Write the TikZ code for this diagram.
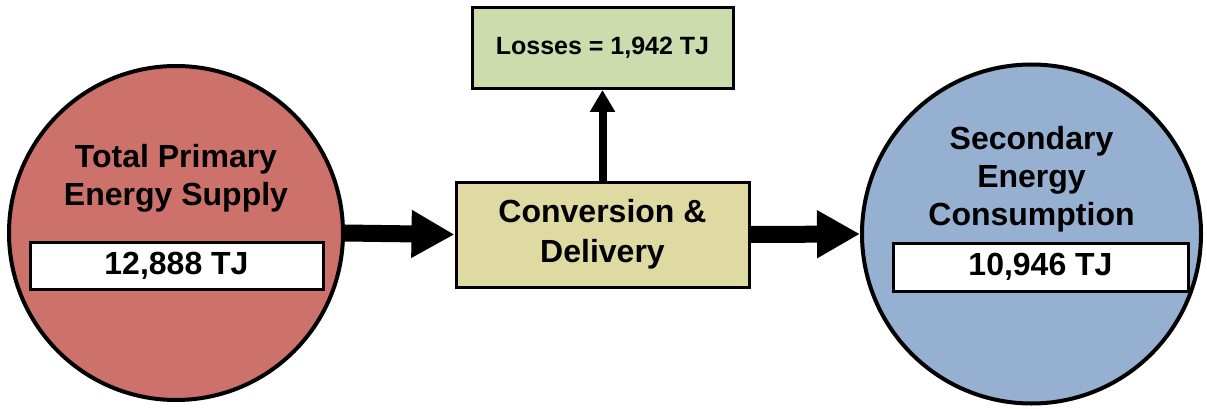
\documentclass[tikz,border=0pt]{standalone}
\usepackage{fontspec}
\setmainfont{Liberation Sans}
\usetikzlibrary{arrows.meta,shapes.geometric}
\definecolor{supplyred}{RGB}{205,114,107}
\definecolor{consblue}{RGB}{149,176,208}
\definecolor{convtan}{RGB}{222,218,162}
\definecolor{lossgreen}{RGB}{205,220,172}
\tikzset{
  bigcircle/.style={circle, draw=black, line width=4pt, minimum size=335pt, inner sep=0pt},
  valbox/.style={rectangle, draw=black, fill=white, line width=3pt, inner sep=0pt,
    font=\fontsize{32}{38}\selectfont\bfseries},
  titletext/.style={align=center, inner sep=0pt, font=\fontsize{32}{38}\selectfont\bfseries},
  convbox/.style={rectangle, draw=black, fill=convtan, line width=3pt, inner sep=0pt,
    align=center, minimum width=293pt, minimum height=105pt,
    font=\fontsize{32}{40}\selectfont\bfseries},
  lossbox/.style={rectangle, draw=black, fill=lossgreen, line width=3pt, inner sep=0pt,
    minimum width=261pt, minimum height=81pt,
    font=\fontsize{25}{30}\selectfont\bfseries},
  bigarrow/.style={line width=17pt, -{Triangle[length=43pt,width=45pt]}},
  smallarrow/.style={line width=8pt, -{Triangle[length=22pt,width=24pt]}}
}
\begin{document}
\begin{tikzpicture}[x=1pt,y=-1pt]
\useasboundingbox (0,0) rectangle (1207,409);
% circles
\node[bigcircle, fill=supplyred, minimum size=334pt] (tpes) at (176,233) {};
\node[bigcircle, fill=consblue, minimum size=339pt] (sec) at (1031.5,234) {};
% titles
\node[titletext] (tpestitle) at (176,178.5) {Total Primary\\Energy Supply};
\node[titletext] (sectitle) at (1031.5,179) {Secondary\\Energy\\Consumption};
% value boxes
\node[valbox, minimum width=293pt, minimum height=47pt] (tpesval) at (176.5,265.5) {12,888 TJ};
\node[valbox, minimum width=295pt, minimum height=48pt] (secval) at (1040.5,267) {10,946 TJ};
% middle boxes
\node[convbox] (conv) at (602.5,234.5) {Conversion \&\\Delivery};
\node[lossbox] (loss) at (602.5,48) {Losses = 1,942 TJ};
% arrows
\draw[bigarrow] (tpes.east) -- (conv.west);
\draw[bigarrow] (conv.east) -- (sec.west);
\draw[smallarrow] (conv.north) -- (loss.south);
\end{tikzpicture}
\end{document}
